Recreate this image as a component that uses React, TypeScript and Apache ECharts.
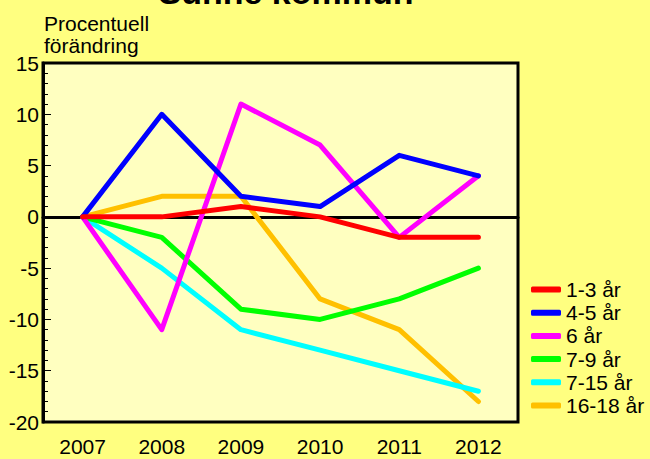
import React, { useEffect, useRef } from "react";
import * as echarts from "echarts";

const years = ["2007", "2008", "2009", "2010", "2011", "2012"];
const seriesNames = ["1-3 år", "4-5 år", "6 år", "7-9 år", "7-15 år", "16-18 år"];
const colors = ["#FF0000", "#0000FF", "#FF00FF", "#00FF00", "#00FFFF", "#FFC000"];
const v13 = [0, 0, 1, 0, -2, -2];
const v45 = [0, 10, 2, 1, 6, 4];
const v6 = [0, -11, 11, 7, -2, 4];
const v79 = [0, -2, -9, -10, -8, -5];
const v715 = [0, -5, -11, -13, -15, -17];
const v1618 = [0, 2, 2, -8, -11, -18];
const allValues = [v13, v45, v6, v79, v715, v1618];

const FONT = "'Liberation Sans', Arial, sans-serif";

export default function App() {
  const ref = useRef<HTMLDivElement>(null);
  useEffect(() => {
    if (!ref.current) return;
    document.body.style.margin = "0";
    const chart = echarts.init(ref.current, null, { renderer: "svg" });
    const lineSeries = allValues.map((vals, i) => ({
      name: seriesNames[i],
      type: "line",
      data: vals,
      symbol: "none",
      z: 10 - i,
      lineStyle: { color: colors[i], width: 5, cap: "round", join: "round" },
      itemStyle: { color: colors[i] },
    }));
    chart.setOption({
      animation: false,
      backgroundColor: "#FFFF80",
      textStyle: { fontFamily: FONT },
      grid: {
        left: 43,
        right: 132,
        top: 63,
        bottom: 37,
        show: true,
        backgroundColor: "#FFFFC0",
        borderColor: "#000",
        borderWidth: 3,
        z: 0,
      },
      graphic: [
        {
          type: "text",
          x: 286,
          y: -8,
          style: {
            text: "Sunne kommun",
            fontFamily: FONT,
            fontSize: 34,
            fontWeight: "bold",
            fill: "#000",
            align: "center",
            verticalAlign: "middle",
          },
          z: 100,
        },
        {
          type: "text",
          x: 44,
          y: 12,
          style: {
            text: "Procentuell\nförändring",
            fontFamily: FONT,
            fontSize: 21,
            lineHeight: 22,
            fill: "#000",
            align: "left",
            verticalAlign: "top",
          },
          z: 100,
        },
      ],
      legend: {
        orient: "vertical",
        left: 526,
        top: 274,
        itemWidth: 30,
        itemHeight: 6,
        itemGap: 2.2,
        icon: "roundRect",
        data: seriesNames,
        textStyle: {
          fontFamily: FONT,
          fontSize: 21,
          lineHeight: 21,
          color: "#000",
          padding: [0, 0, 0, 0],
        },
      },
      xAxis: {
        type: "category",
        data: years,
        boundaryGap: true,
        axisLine: { lineStyle: { color: "#000", width: 3 } },
        axisTick: {
          inside: true,
          alignWithLabel: true,
          length: 8,
          lineStyle: { color: "#000", width: 1 },
        },
        axisLabel: { color: "#000", fontSize: 21, fontFamily: FONT, margin: 14 },
        splitLine: { show: false },
      },
      yAxis: {
        type: "value",
        min: -20,
        max: 15,
        interval: 5,
        axisLine: { show: true, lineStyle: { color: "#000", width: 3 } },
        axisTick: {
          show: true,
          inside: true,
          length: 8,
          lineStyle: { color: "#000", width: 1 },
        },
        minorTick: {
          show: true,
          splitNumber: 5,
          length: 5,
          lineStyle: { color: "#000", width: 1 },
        },
        axisLabel: { color: "#000", fontSize: 21, fontFamily: FONT, margin: 4 },
        splitLine: { show: false },
      },
      series: [
        {
          name: "zero",
          type: "line",
          data: [],
          z: 1,
          silent: true,
          markLine: {
            silent: true,
            symbol: "none",
            label: { show: false },
            lineStyle: { color: "#000", width: 2, type: "solid" },
            data: [{ yAxis: 0 }],
          },
        },
        ...lineSeries,
      ],
    });
    return () => chart.dispose();
  }, []);
  return <div ref={ref} style={{ width: 650, height: 459 }} />;
}
